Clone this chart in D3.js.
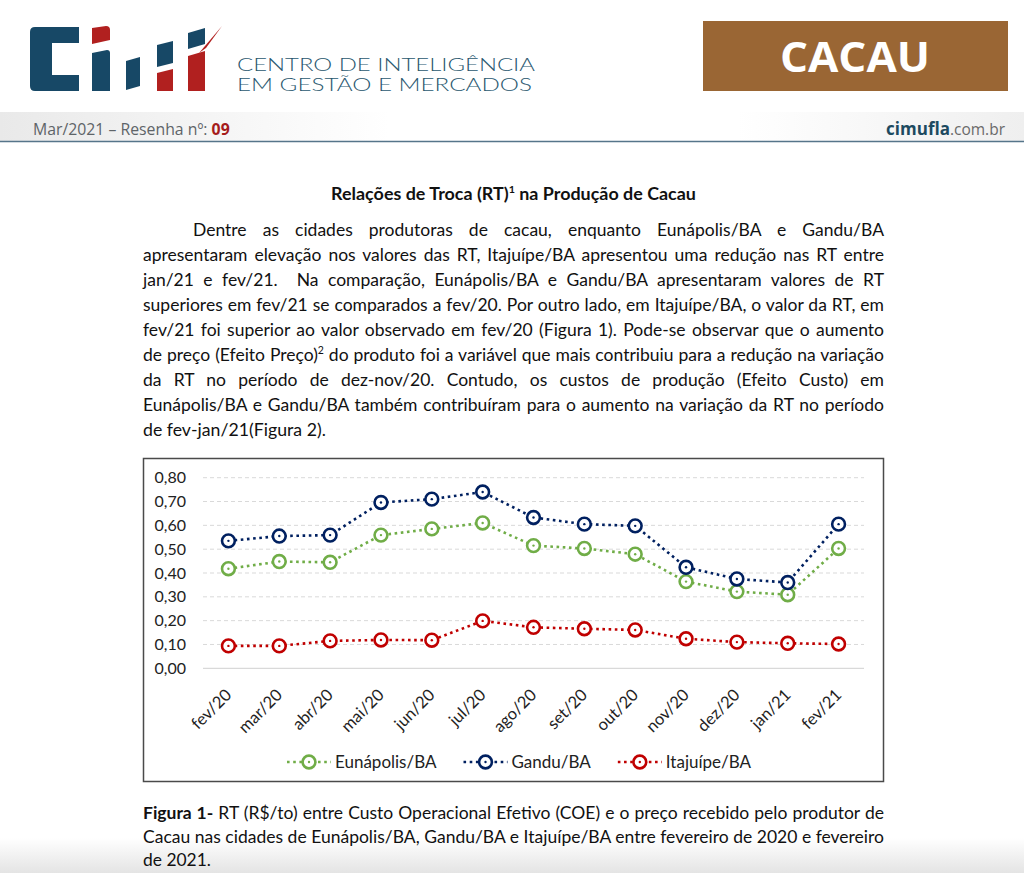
<!DOCTYPE html>
<html><head><meta charset="utf-8">
<script src="https://cdn.jsdelivr.net/npm/d3@7"></script>
<style>
html,body{margin:0;padding:0;background:#fff;}
svg{display:block;}
text{white-space:pre;}
</style></head><body>
<svg id="page" width="1024" height="873"></svg>
<script>
// ---------- DATA ----------
const categories = ["fev/20","mar/20","abr/20","mai/20","jun/20","jul/20","ago/20","set/20","out/20","nov/20","dez/20","jan/21","fev/21"];
const seriesNames = ["Eunápolis/BA","Gandu/BA","Itajuípe/BA"];
const eunapolis = [0.418,0.448,0.445,0.559,0.585,0.610,0.515,0.503,0.479,0.364,0.322,0.309,0.503];
const gandu     = [0.535,0.555,0.559,0.696,0.710,0.740,0.633,0.605,0.598,0.424,0.375,0.360,0.605];
const itajuipe  = [0.094,0.094,0.115,0.119,0.118,0.199,0.172,0.166,0.161,0.124,0.110,0.105,0.102];
const yTicks = [0,0.1,0.2,0.3,0.4,0.5,0.6,0.7,0.8];
const seriesColors = ["#70AD47","#002060","#C00000"];

const titleParts = [{b:"Relações de Troca (RT)"},{sup:"1",bold:true},{b:" na Produção de Cacau"}];
const bodyLines = [
  ["Dentre as cidades produtoras de cacau, enquanto Eunápolis/BA e Gandu/BA"],
  ["apresentaram elevação nos valores das RT, Itajuípe/BA apresentou uma redução nas RT entre"],
  ["jan/21 e fev/21.  Na comparação, Eunápolis/BA e Gandu/BA apresentaram valores de RT"],
  ["superiores em fev/21 se comparados a fev/20. Por outro lado, em Itajuípe/BA, o valor da RT, em"],
  ["fev/21 foi superior ao valor observado em fev/20 (Figura 1). Pode-se observar que o aumento"],
  ["de preço (Efeito Preço)",{sup:"2"}," do produto foi a variável que mais contribuiu para a redução na variação"],
  ["da RT no período de dez-nov/20. Contudo, os custos de produção (Efeito Custo) em"],
  ["Eunápolis/BA e Gandu/BA também contribuíram para o aumento na variação da RT no período"],
  ["de fev-jan/21(Figura 2)."]
];
const captionLines = [
  [{b:"Figura 1-"}," RT (R$/to) entre Custo Operacional Efetivo (COE) e o preço recebido pelo produtor de"],
  ["Cacau nas cidades de Eunápolis/BA, Gandu/BA e Itajuípe/BA entre fevereiro de 2020 e fevereiro"],
  ["de 2021."]
];

// ---------- SETUP ----------
const svg = d3.select("#page");
const defs = svg.append("defs");
const g1 = defs.append("linearGradient").attr("id","band").attr("x1","0").attr("x2","1").attr("y1","0").attr("y2","0");
g1.append("stop").attr("offset","0").attr("stop-color","#e9e9e9");
g1.append("stop").attr("offset","0.38").attr("stop-color","#ffffff");
g1.append("stop").attr("offset","0.72").attr("stop-color","#ffffff");
g1.append("stop").attr("offset","1").attr("stop-color","#efefef");
const g2 = defs.append("linearGradient").attr("id","bottomShade").attr("x1","0").attr("x2","0").attr("y1","0").attr("y2","1");
g2.append("stop").attr("offset","0").attr("stop-color","#ffffff");
g2.append("stop").attr("offset","1").attr("stop-color","#e4e4e4");

svg.append("rect").attr("x",0).attr("y",0).attr("width",1024).attr("height",873).attr("fill","#fff");
svg.append("rect").attr("x",0).attr("y",838).attr("width",1024).attr("height",35).attr("fill","url(#bottomShade)");

// ---------- HEADER ----------
const logoBlue = "#174866", logoRed = "#B1201F";
const logo = svg.append("g");
const logoShapes = [
  [logoBlue,"M79,27 L35,27 Q30,27 30,32 L30,86 Q30,91 35,91 L79,91 L79,75 L52,75 L52,43 L79,43 Z"],
  [logoRed,"M92,28 L106,26 Q110,26 110,30 L110,40 L92,44 Z"],
  [logoBlue,"M92,53 L107,50 Q110,50 110,53 L110,91 L92,91 Z"],
  [logoBlue,"M126,61 L140,57 L140,86 L126,90 Z"],
  [logoBlue,"M157,45 L173,41 L173,63 L157,67 Z"],
  [logoRed,"M157,73 L173,69 L173,91 L157,91 Z"],
  [logoBlue,"M188,33 L205,28 L205,44 L188,49 Z"],
  [logoRed,"M188,56 L205,51 L205,91 L188,91 Z"],
  [logoRed,"M199,53 L222,26 L206,48 Z"]
];
logo.selectAll("path").data(logoShapes).join("path").attr("d",d=>d[1]).attr("fill",d=>d[0]);

svg.append("text").attr("x",237).attr("y",71).attr("font-family","Lato").attr("font-weight",300).attr("font-size",18.5)
  .attr("fill","#2a586f").attr("textLength",298).attr("lengthAdjust","spacingAndGlyphs").text("CENTRO DE INTELIGÊNCIA");
svg.append("text").attr("x",237).attr("y",91).attr("font-family","Lato").attr("font-weight",300).attr("font-size",18.5)
  .attr("fill","#2a586f").attr("textLength",295).attr("lengthAdjust","spacingAndGlyphs").text("EM GESTÃO E MERCADOS");

svg.append("rect").attr("x",703).attr("y",21).attr("width",305).attr("height",70).attr("fill","#9A6634");
svg.append("text").attr("x",855).attr("y",72).attr("text-anchor","middle").attr("font-family","Open Sans")
  .attr("font-weight",700).attr("font-size",42).attr("fill","#fff").attr("textLength",150).attr("lengthAdjust","spacingAndGlyphs").text("CACAU");

svg.append("rect").attr("x",0).attr("y",112).attr("width",1024).attr("height",29).attr("fill","url(#band)");
svg.append("line").attr("x1",0).attr("x2",1024).attr("y1",141.5).attr("y2",141.5).attr("stroke","#56758a").attr("stroke-width",1.5);
const res = svg.append("text").attr("x",33).attr("y",135).attr("font-family","Open Sans").attr("font-size",15.8).attr("fill","#5e6468");
res.append("tspan").text("Mar/2021 – Resenha nº: ");
res.append("tspan").attr("font-weight",700).attr("fill","#A51C1C").text("09");
const site = svg.append("text").attr("x",1005).attr("y",135).attr("text-anchor","end").attr("font-family","Open Sans").attr("font-size",17);
site.append("tspan").attr("font-weight",700).attr("fill","#1d4a60").text("cimufla");
site.append("tspan").attr("fill","#6a6a6a").attr("font-size",15.5).text(".com.br");

// ---------- TEXT HELPER ----------
function placeLine(x, y, parts, o) {
  const t = svg.append("text").attr("x", x).attr("y", y)
    .attr("font-family", o.font).attr("font-size", o.size).attr("fill", "#111");
  if (o.anchor) t.attr("text-anchor", o.anchor);
  if (o.bold) t.attr("font-weight", 700);
  let pendingDy = 0;
  parts.forEach(p => {
    let ts;
    if (typeof p === "string") ts = t.append("tspan").text(p);
    else if (p.b) ts = t.append("tspan").attr("font-weight", 700).text(p.b);
    else if (p.sup) {
      ts = t.append("tspan").attr("dy", -o.size*0.42).attr("font-size", o.size*0.6).text(p.sup);
      if (p.bold) ts.attr("font-weight",700);
      pendingDy = o.size*0.42; return;
    }
    if (pendingDy) { ts.attr("dy", pendingDy); pendingDy = 0; }
  });
  if (o.width) {
    const w = t.node().getComputedTextLength();
    const n = (t.text().match(/ /g) || []).length;
    if (o.justify && w <= o.width && n > 0) {
      t.attr("word-spacing", (o.width - w) / n);
    } else if (o.justify || o.fit) {
      const s = o.width / w;
      t.attr("transform", `translate(${x},0) scale(${s},1) translate(${-x},0)`);
    }
  }
  return t;
}

const bodyFont = "Lato", bodySize = 17.5;
placeLine(513.5, 200, titleParts, {font:bodyFont, size:17, anchor:"middle", width:365, fit:true});
bodyLines.forEach((ln, i) => {
  const last = i === bodyLines.length - 1;
  const x0 = i === 0 ? 193 : 143;
  placeLine(x0, 236 + i*25, ln, {font:bodyFont, size:bodySize, width: last ? 183 : 884 - x0, justify: !last, fit: last});
});
captionLines.forEach((ln, i) => {
  const last = i === captionLines.length - 1;
  placeLine(143, 819 + i*23.5, ln, {font:bodyFont, size:bodySize, width: last ? 68 : 741, justify: !last, fit: last});
});

// ---------- CHART ----------
svg.append("rect").attr("x",143.5).attr("y",458.5).attr("width",740).attr("height",323)
  .attr("fill","#fff").attr("stroke","#4a4a4a").attr("stroke-width",1.5);

const x = d3.scaleBand().domain(categories).range([203, 864]).padding(0);
const cx = c => x(c) + x.bandwidth()/2;
const y = d3.scaleLinear().domain([0, 0.8]).range([668.3, 477.7]);
const fmt = v => d3.format(".2f")(v).replace(".", ",");

const grid = svg.append("g");
grid.selectAll("line").data(yTicks).join("line")
  .attr("x1", 203).attr("x2", 864)
  .attr("y1", d => y(d)).attr("y2", d => y(d))
  .attr("stroke", d => d === 0 ? "#d0d0d0" : "#d9d9d9").attr("stroke-width", 1)
  .attr("stroke-dasharray", d => d === 0 ? null : "4,3");

const yAxis = d3.axisLeft(y).tickValues(yTicks).tickFormat(fmt).tickSize(0).tickPadding(0);
const ya = svg.append("g").attr("transform","translate(186,0)").call(yAxis);
ya.select(".domain").remove();
ya.selectAll("text").attr("font-family","Lato").attr("font-size",16).attr("fill","#222");

const xAxis = d3.axisBottom(x).tickSize(0).tickPadding(0);
const xa = svg.append("g").call(xAxis);
xa.select(".domain").remove();
xa.selectAll(".tick").attr("transform", d => `translate(${cx(d)},0)`);
xa.selectAll("text").attr("font-family","Lato").attr("font-size",16.5).attr("fill","#222")
  .attr("text-anchor","end").attr("dy",null).attr("y",null)
  .attr("transform","translate(4,696) rotate(-45)");

const seriesData = [eunapolis, gandu, itajuipe];
const line = d3.line().x((d,i) => cx(categories[i])).y(d => y(d));
seriesData.forEach((vals, si) => {
  const col = seriesColors[si];
  const gS = svg.append("g");
  gS.append("path").attr("d", line(vals)).attr("fill","none").attr("stroke",col)
    .attr("stroke-width",2.6).attr("stroke-dasharray","2.6,3.6");
  gS.selectAll("circle.m").data(vals).join("circle").attr("class","m")
    .attr("cx",(d,i)=>cx(categories[i])).attr("cy",d=>y(d)).attr("r",6.4)
    .attr("fill","#fff").attr("stroke",col).attr("stroke-width",2.6);
  gS.selectAll("circle.d").data(vals).join("circle").attr("class","d")
    .attr("cx",(d,i)=>cx(categories[i])).attr("cy",d=>y(d)).attr("r",1.2).attr("fill",col);
});

// legend
let lx = 287;
const ly = 762;
seriesNames.forEach((name, si) => {
  const col = seriesColors[si];
  const lg = svg.append("g");
  lg.append("line").attr("x1",lx).attr("x2",lx+44).attr("y1",ly).attr("y2",ly)
    .attr("stroke",col).attr("stroke-width",2.6).attr("stroke-dasharray","2.6,3.6");
  lg.append("circle").attr("cx",lx+22).attr("cy",ly).attr("r",6.4).attr("fill","#fff").attr("stroke",col).attr("stroke-width",2.6);
  lg.append("circle").attr("cx",lx+22).attr("cy",ly).attr("r",1.2).attr("fill",col);
  const t = lg.append("text").attr("x",lx+48).attr("y",ly).attr("dy","0.35em")
    .attr("font-family","Lato").attr("font-size",17).attr("fill","#222").text(name);
  const w = t.node().getComputedTextLength();
  lx = lx + 48 + w + 27;
});
</script>
</body></html>
